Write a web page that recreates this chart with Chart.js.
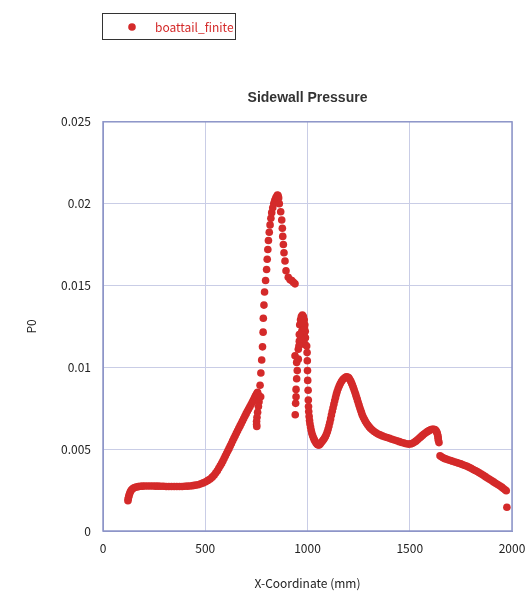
<!DOCTYPE html>
<html>
<head>
<meta charset="utf-8">
<script src="https://cdn.jsdelivr.net/npm/chart.js@4"></script>
<style>
  body { margin: 0; background: #fff; }
  canvas { display: block; }
</style>
</head>
<body>
<canvas id="pressureChart" width="526" height="599"></canvas>
<script>
// X-Coordinate (mm)
const xCoord = [
  122, 123, 125, 127, 130, 133, 137, 142, 148, 155, 163, 172, 182, 193, 205, 218, 231, 244, 257, 270,
  283, 296, 309, 322, 335, 348, 361, 374, 387, 400, 413, 426, 439, 452, 465, 478, 490, 502, 513, 524,
  534, 543, 551, 559, 566, 573, 580, 586, 592, 598, 604, 610, 616, 622, 628, 634, 640, 646, 652, 658,
  664, 670, 676, 682, 688, 694, 700, 706, 712, 718, 724, 730, 735, 740, 744, 748, 752, 756,
  760, 763, 760, 756, 753, 751, 751, 752,
  771, 768, 772, 776, 780, 783, 784, 787, 790, 795, 800, 803, 806, 809, 813, 817, 821, 825, 830, 835,
  840, 845, 850, 853, 856, 859,
  862, 869, 874, 877, 879, 882, 885, 890, 895, 906, 915, 923, 931, 939,
  939, 947, 950, 947, 944, 944, 942, 940, 955, 955,
  962, 966, 970, 975, 980, 984, 987, 989, 990, 988, 983, 978, 972, 967, 963, 960, 958, 960, 985, 975,
  996, 998, 999, 1000, 1001, 1003, 1004, 1005, 1006, 1008, 1010, 1012, 1015, 1018, 1021, 1025, 1029, 1033,
  1037, 1042, 1047, 1052, 1057, 1062, 1067, 1072, 1077, 1082, 1087, 1092, 1097, 1101, 1105, 1109, 1113, 1117,
  1121, 1125, 1129, 1133, 1137, 1141, 1145, 1150, 1155, 1160, 1166, 1172, 1178, 1184, 1190, 1196, 1202, 1207,
  1212, 1216, 1220, 1224, 1228, 1232, 1236, 1240, 1244, 1248, 1252, 1256, 1260, 1264, 1268, 1273, 1278, 1283,
  1289, 1295, 1302, 1309, 1317, 1326, 1335, 1345, 1355, 1366, 1377, 1389, 1401, 1413, 1425, 1437, 1449, 1461,
  1472, 1483, 1494, 1505, 1514, 1522, 1530, 1538, 1546, 1554, 1562, 1570, 1578, 1586, 1594, 1602, 1609, 1616,
  1622, 1627, 1631, 1634, 1636, 1638, 1639, 1640, 1643,
  1648, 1655, 1663, 1672, 1681, 1690, 1700, 1710, 1720, 1730, 1740, 1750, 1760, 1770, 1780, 1790, 1800, 1810,
  1820, 1830, 1840, 1850, 1860, 1870, 1880, 1890, 1900, 1910, 1920, 1930, 1940, 1950, 1958, 1966, 1972, 1975
];

// P0
const p0 = [
  0.00185, 0.00195, 0.00206, 0.00217, 0.00228, 0.00238, 0.00247, 0.00255, 0.00261, 0.00266, 0.00269, 0.00271, 0.00273, 0.00274, 0.00275, 0.00275, 0.00275, 0.00275, 0.00274, 0.00274,
  0.00273, 0.00273, 0.00272, 0.00272, 0.00272, 0.00272, 0.00272, 0.00272, 0.00272, 0.00273, 0.00274, 0.00275, 0.00277, 0.00280, 0.00283, 0.00288, 0.00294, 0.00301, 0.00309, 0.00318,
  0.00329, 0.00341, 0.00354, 0.00368, 0.00383, 0.00398, 0.00413, 0.00428, 0.00443, 0.00458, 0.00473, 0.00488, 0.00503, 0.00519, 0.00535, 0.00551, 0.00567, 0.00582, 0.00597, 0.00612,
  0.00627, 0.00642, 0.00657, 0.00672, 0.00687, 0.00702, 0.00717, 0.00731, 0.00745, 0.00759, 0.00773, 0.00786, 0.00798, 0.00810, 0.00821, 0.00831, 0.00840, 0.00848,
  0.00830, 0.00790, 0.00760, 0.00725, 0.00695, 0.00670, 0.00650, 0.00638,
  0.00820, 0.00890, 0.00965, 0.01045, 0.01125, 0.01215, 0.01300, 0.01380, 0.01460, 0.01530, 0.01598, 0.01660, 0.01720, 0.01775, 0.01825, 0.01870, 0.01910, 0.01945, 0.01975, 0.02000,
  0.02020, 0.02035, 0.02045, 0.02052, 0.02050, 0.02035,
  0.02000, 0.01950, 0.01900, 0.01850, 0.01800, 0.01750, 0.01700, 0.01650, 0.01590, 0.01550, 0.01535, 0.01530, 0.01520, 0.01510,
  0.01070, 0.01030, 0.00980, 0.00930, 0.00865, 0.00820, 0.00780, 0.00710, 0.01050, 0.01110,
  0.01260, 0.01290, 0.01310, 0.01320, 0.01310, 0.01290, 0.01260, 0.01220, 0.01180, 0.01140, 0.01200, 0.01240, 0.01220, 0.01180, 0.01140, 0.01160, 0.01130, 0.01200, 0.01240, 0.01270,
  0.01130, 0.01090, 0.01040, 0.00980, 0.00920, 0.00860, 0.00800, 0.00760, 0.00730, 0.00700, 0.00675, 0.00655, 0.00635, 0.00615, 0.00598, 0.00583, 0.00570, 0.00558,
  0.00548, 0.00538, 0.00530, 0.00525, 0.00526, 0.00532, 0.00540, 0.00548, 0.00556, 0.00565, 0.00576, 0.00590, 0.00606, 0.00623, 0.00642, 0.00663, 0.00685, 0.00708,
  0.00731, 0.00753, 0.00775, 0.00796, 0.00816, 0.00835, 0.00852, 0.00870, 0.00886, 0.00900, 0.00913, 0.00924, 0.00932, 0.00937, 0.00942, 0.00941, 0.00936, 0.00926,
  0.00914, 0.00903, 0.00890, 0.00877, 0.00863, 0.00848, 0.00833, 0.00817, 0.00801, 0.00785, 0.00769, 0.00753, 0.00738, 0.00723, 0.00709, 0.00695, 0.00682, 0.00670,
  0.00658, 0.00647, 0.00636, 0.00626, 0.00617, 0.00608, 0.00600, 0.00593, 0.00587, 0.00581, 0.00576, 0.00571, 0.00566, 0.00561, 0.00556, 0.00551, 0.00546, 0.00541,
  0.00537, 0.00533, 0.00531, 0.00532, 0.00536, 0.00542, 0.00549, 0.00557, 0.00566, 0.00575, 0.00584, 0.00592, 0.00600, 0.00607, 0.00613, 0.00618, 0.00621, 0.00622,
  0.00620, 0.00615, 0.00607, 0.00598, 0.00588, 0.00578, 0.00566, 0.00555, 0.00540,
  0.00460, 0.00453, 0.00447, 0.00442, 0.00438, 0.00434, 0.00430, 0.00426, 0.00422, 0.00418, 0.00414, 0.00410, 0.00405, 0.00400, 0.00395, 0.00389, 0.00383, 0.00376,
  0.00370, 0.00363, 0.00356, 0.00348, 0.00340, 0.00332, 0.00324, 0.00316, 0.00308, 0.00300, 0.00292, 0.00284, 0.00276, 0.00268, 0.00260, 0.00252, 0.00246, 0.00145
];

const xTickValues = [0, 500, 1000, 1500, 2000];
const xTickLabels = ['0', '500', '1000', '1500', '2000'];
const yTickValues = [0, 0.005, 0.01, 0.015, 0.02, 0.025];
const yTickLabels = ['0', '0.005', '0.01', '0.015', '0.02', '0.025'];

const seriesName = 'boattail_finite';
const red = '#d42a2a';
const frameColor = '#8d95c8';
const tickFont = { family: "'Noto Sans CJK JP', 'Noto Sans', sans-serif", size: 12 };

// boxed legend in the top left corner
const boxLegend = {
  id: 'boxLegend',
  afterDraw(chart) {
    const ctx = chart.ctx;
    ctx.save();
    ctx.strokeStyle = '#333';
    ctx.lineWidth = 1;
    ctx.strokeRect(102.5, 13.5, 133, 26);
    ctx.fillStyle = red;
    ctx.beginPath();
    ctx.arc(132, 27, 3.8, 0, Math.PI * 2);
    ctx.fill();
    ctx.font = "12px 'Noto Sans CJK JP', 'Noto Sans', sans-serif";
    ctx.textBaseline = 'middle';
    ctx.fillText(chart.data.datasets[0].label, 155, 27);
    ctx.restore();
  }
};

// darker frame around the plot area
const plotFrame = {
  id: 'plotFrame',
  beforeDatasetsDraw(chart) {
    const a = chart.chartArea;
    const ctx = chart.ctx;
    ctx.save();
    ctx.strokeStyle = frameColor;
    ctx.lineWidth = 1.5;
    ctx.strokeRect(a.left, a.top, a.right - a.left, a.bottom - a.top);
    ctx.restore();
  }
};

const ctx = document.getElementById('pressureChart').getContext('2d');

new Chart(ctx, {
  type: 'scatter',
  data: {
    datasets: [{
      label: seriesName,
      data: xCoord.map((x, i) => ({ x: x, y: p0[i] })),
      backgroundColor: red,
      borderWidth: 0,
      pointRadius: 3.8,
      pointHoverRadius: 3.8
    }]
  },
  options: {
    responsive: false,
    animation: false,
    layout: { padding: 0 },
    plugins: {
      legend: { display: false },
      tooltip: { enabled: false },
      title: {
        display: true,
        text: 'Sidewall Pressure',
        fullSize: false,
        color: '#333',
        font: { family: "'Liberation Sans', Arial, sans-serif", size: 14, weight: 'bold' },
        padding: { top: 90, bottom: 15 }
      }
    },
    scales: {
      x: {
        type: 'linear',
        min: 0,
        max: 2000,
        afterBuildTicks: s => { s.ticks = xTickValues.map(v => ({ value: v })); },
        afterFit: s => { s.height = 68; s.paddingRight = 14; s.paddingLeft = 0; },
        ticks: {
          color: '#222',
          font: tickFont,
          padding: 10,
          callback: v => xTickLabels[xTickValues.indexOf(v)]
        },
        grid: { color: '#c9cde6', drawTicks: false },
        border: { color: frameColor },
        title: {
          display: true,
          text: 'X-Coordinate (mm)',
          color: '#222',
          font: tickFont,
          padding: { top: 4, bottom: 8 }
        }
      },
      y: {
        min: 0,
        max: 0.025,
        afterBuildTicks: s => { s.ticks = yTickValues.map(v => ({ value: v })); },
        afterFit: s => { s.width = 103; },
        ticks: {
          color: '#222',
          font: tickFont,
          padding: 12,
          callback: v => yTickLabels[Math.round(v / 0.005)]
        },
        grid: { color: '#c9cde6', drawTicks: false },
        border: { color: frameColor },
        title: {
          display: true,
          text: 'P0',
          color: '#222',
          font: tickFont,
          padding: { top: 24, bottom: 0 }
        }
      }
    }
  },
  plugins: [boxLegend, plotFrame]
});
</script>
</body>
</html>
